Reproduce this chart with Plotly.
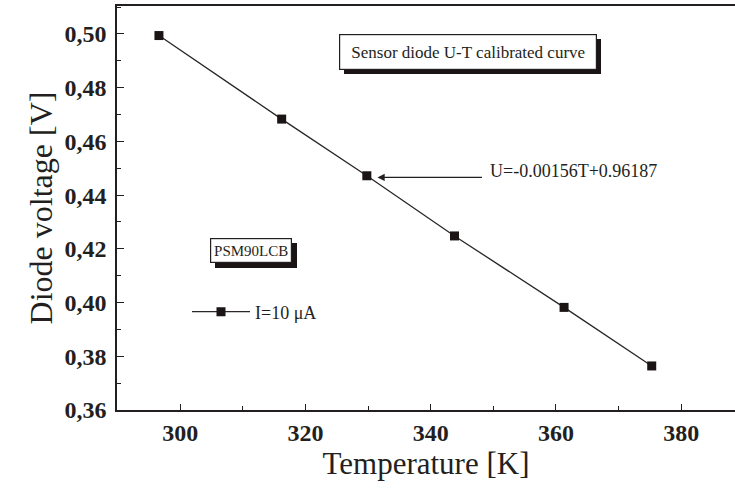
import plotly.graph_objects as go

# Data
temperature_K = [296.6, 316.2, 329.8, 343.8, 361.3, 375.3]
diode_voltage_V = [0.4994, 0.4683, 0.4472, 0.4248, 0.3982, 0.3764]
series_name = "I=10 \u03bcA"
x_ticks = [300, 320, 340, 360, 380]
y_ticks = [0.36, 0.38, 0.40, 0.42, 0.44, 0.46, 0.48, 0.50]

W, H = 735, 491
L, R, T, B = 117, 0, 6, 81
PW, PH = W - L - R, H - T - B

def px(x):
    return (x - L) / PW

def py(y):
    return (H - B - y) / PH

SERIF = "Liberation Serif, Times New Roman, serif"
INK = "#231f20"

fig = go.Figure()
fig.add_trace(go.Scatter(
    x=temperature_K, y=diode_voltage_V, mode="lines+markers", name=series_name,
    line=dict(color="#2a2626", width=1.3),
    marker=dict(symbol="square", size=9, color="#1a1414"),
))

# shadows for text boxes
fig.add_shape(type="rect", xref="paper", yref="paper",
              x0=px(344), x1=px(601), y0=py(74), y1=py(39),
              fillcolor="#1a1414", line=dict(width=0), layer="above")
fig.add_shape(type="rect", xref="paper", yref="paper",
              x0=px(215), x1=px(297), y0=py(268), y1=py(243),
              fillcolor="#1a1414", line=dict(width=0), layer="above")

fig.add_annotation(xref="paper", yref="paper", x=px(468), y=py(52),
                   xanchor="center", yanchor="middle",
                   text="Sensor diode U-T calibrated curve", showarrow=False,
                   font=dict(family=SERIF, size=17, color=INK),
                   bgcolor="white", bordercolor=INK, borderwidth=1.2, borderpad=2,
                   width=252, height=30)
fig.add_annotation(xref="paper", yref="paper", x=px(251), y=py(250.5),
                   xanchor="center", yanchor="middle",
                   text="PSM90LCB", showarrow=False,
                   font=dict(family=SERIF, size=15, color=INK),
                   bgcolor="white", bordercolor=INK, borderwidth=1.2, borderpad=2,
                   width=76, height=19)
fig.add_annotation(xref="paper", yref="paper", x=px(488), y=py(171),
                   xanchor="left", yanchor="middle",
                   text="U=-0.00156T+0.96187", showarrow=False,
                   font=dict(family=SERIF, size=18, color=INK))
fig.add_annotation(x=331.5, y=0.4466, text="", showarrow=True,
                   ax=106, ay=0, arrowhead=2, arrowsize=1.2, arrowwidth=1.2,
                   arrowcolor=INK)

fig.update_layout(
    width=W, height=H, margin=dict(l=L, r=R, t=T, b=B),
    paper_bgcolor="white", plot_bgcolor="white",
    separators=", ",
    showlegend=True,
    legend=dict(x=px(187), y=py(312), xanchor="left", yanchor="middle",
                bgcolor="rgba(0,0,0,0)", font=dict(family=SERIF, size=18, color=INK),
                itemwidth=58),
    font=dict(family=SERIF, color=INK),
)
fig.update_xaxes(
    range=[289.9, 388.6], tickvals=x_ticks, ticks="inside", ticklen=6, tickwidth=1.2,
    tickcolor=INK, showline=True, linecolor=INK, linewidth=1.5, mirror=True,
    showgrid=False, zeroline=False,
    minor=dict(dtick=10, ticks="inside", ticklen=4, tickcolor=INK, tickwidth=1, showgrid=False),
    tickfont=dict(family=SERIF, size=24, color=INK, weight="bold"),
    title=dict(text="Temperature [K]", font=dict(family=SERIF, size=31, color=INK), standoff=8),
)
fig.update_yaxes(
    range=[0.36, 0.5104], tickvals=y_ticks, tickformat=".2f", ticks="inside", ticklen=7,
    tickwidth=1.2, tickcolor=INK, showline=True, linecolor=INK, linewidth=1.5, mirror=False,
    showgrid=False, zeroline=False,
    minor=dict(dtick=0.01, ticks="inside", ticklen=4, tickcolor=INK, tickwidth=1, showgrid=False),
    tickfont=dict(family=SERIF, size=24, color=INK, weight="bold"),
    ticklabelstandoff=4,
    title=dict(text="Diode voltage [V]", font=dict(family=SERIF, size=32, color=INK), standoff=2),
)

fig.write_html("out.html")
